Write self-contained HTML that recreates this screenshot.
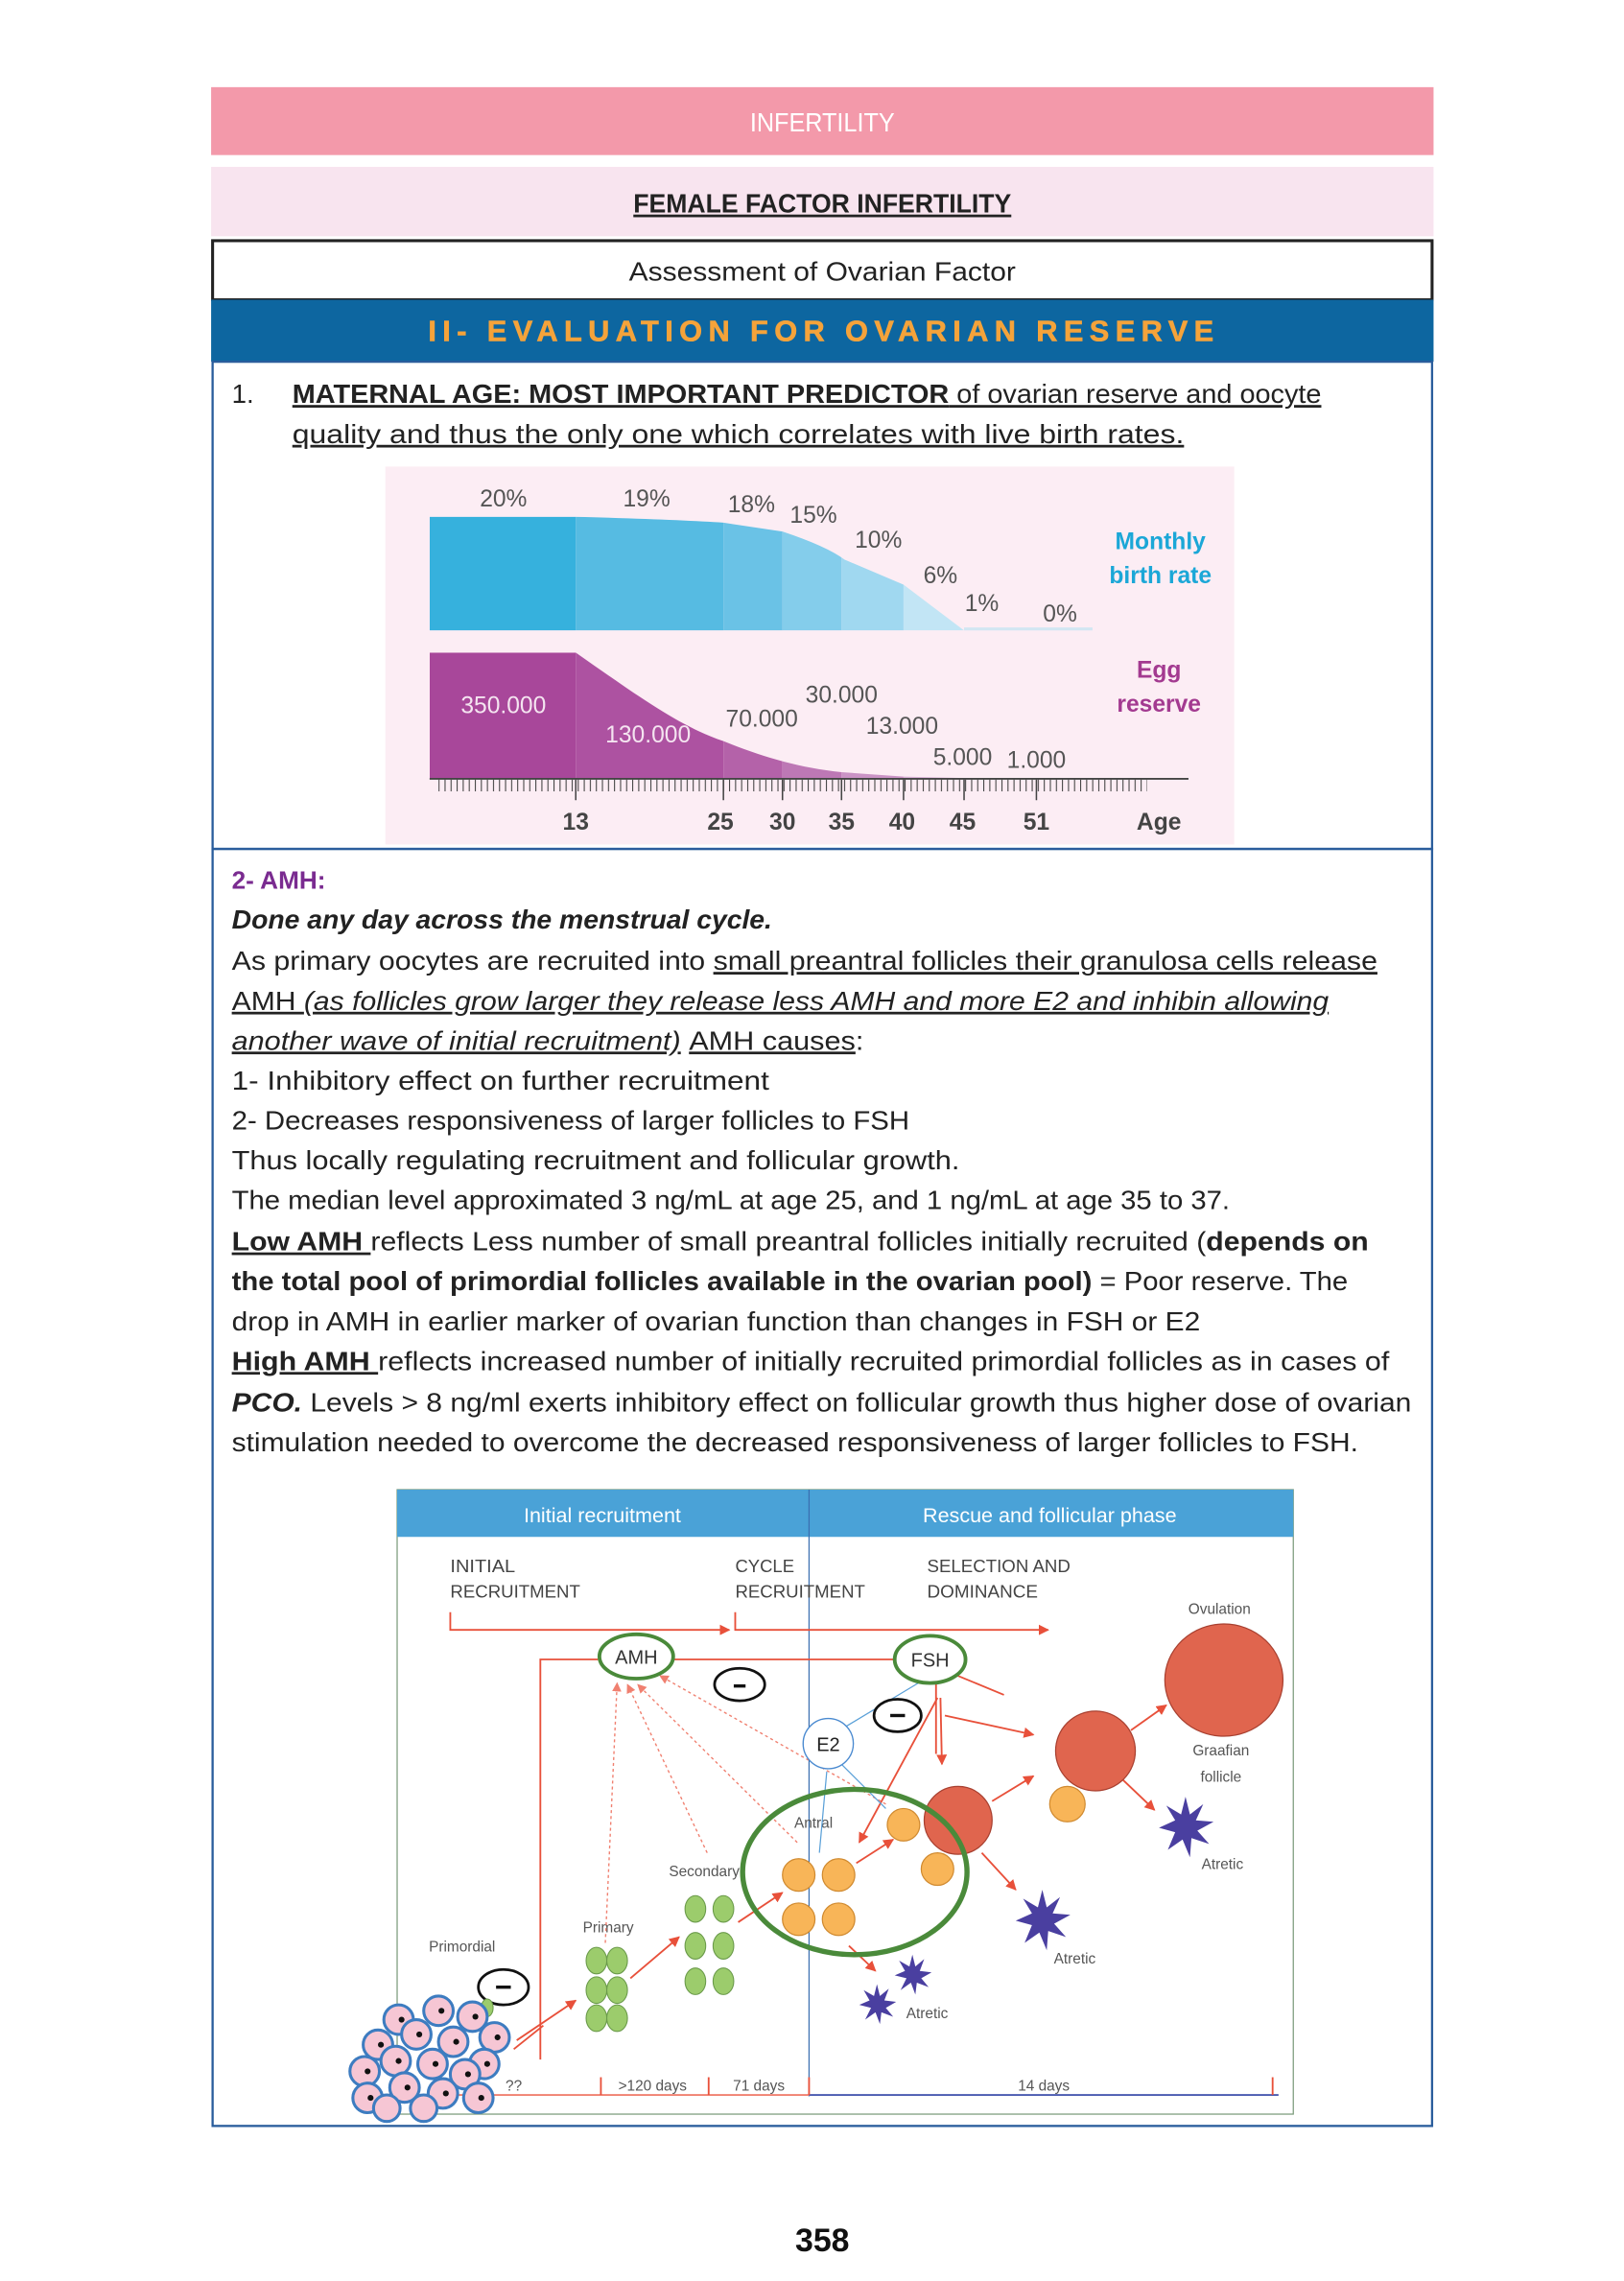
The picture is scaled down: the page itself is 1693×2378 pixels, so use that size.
<!DOCTYPE html>
<html><head><meta charset="utf-8"><style>
html,body{margin:0;padding:0;background:#fff;}
svg{display:block;}
text{font-family:"Liberation Sans",sans-serif;}
</style></head><body>
<svg width="1693" height="2378" viewBox="0 0 1100 1545" xmlns="http://www.w3.org/2000/svg">
<defs>
<pattern id="tk" x="297" y="0" width="4.1" height="20" patternUnits="userSpaceOnUse"><rect x="0" y="0" width="0.7" height="20" fill="#444"/></pattern>
<clipPath id="cb"><path d="M291,350 L390,350 Q460,352 490,354 L530,360 Q560,370 572,379 L612,396 L653,427 L291,427 Z"/></clipPath>
<clipPath id="cp"><path d="M291,442 L390,442 C430,470 460,492 490,502 C515,512 540,520 570,523 L612,526 L653,527 L291,527 Z"/></clipPath>
<marker id="ar" viewBox="0 0 10 10" refX="9" refY="5" markerWidth="6" markerHeight="6" orient="auto"><path d="M0,0 L10,5 L0,10 Z" fill="#e8503a"/></marker>
<marker id="ar2" viewBox="0 0 10 10" refX="9" refY="5" markerWidth="7" markerHeight="7" orient="auto"><path d="M0,0 L10,5 L0,10 Z" fill="#f08070"/></marker>
</defs>
<rect width="1100" height="1545" fill="#fff"/>
<rect x="143" y="59" width="828" height="46" fill="#f399aa"/>
<text x="557" y="89" font-size="18" fill="#fff" text-anchor="middle" textLength="98" lengthAdjust="spacingAndGlyphs">INFERTILITY</text>
<rect x="143" y="113" width="828" height="47" fill="#f8e4ef"/>
<text x="557" y="144" font-size="18" font-weight="bold" fill="#222" text-anchor="middle" textLength="256" lengthAdjust="spacingAndGlyphs" text-decoration="underline">FEMALE FACTOR INFERTILITY</text>
<rect x="144" y="163" width="826" height="40" fill="#fff" stroke="#222" stroke-width="2"/>
<text x="557" y="190" font-size="18" fill="#222" text-anchor="middle" textLength="262" lengthAdjust="spacingAndGlyphs">Assessment of Ovarian Factor</text>
<rect x="143" y="203" width="828" height="42" fill="#0d66a0"/>
<text x="556" y="231" font-size="20" font-weight="bold" fill="#f5a33a" stroke="#f5a33a" stroke-width="0.4" text-anchor="middle" textLength="532" lengthAdjust="spacing">II- EVALUATION FOR OVARIAN RESERVE</text>
<rect x="144" y="245" width="826" height="330" fill="none" stroke="#2a5d9c" stroke-width="1.5"/>
<text x="157" y="273" font-size="18" fill="#222">1.</text>
<text x="198" y="273" font-size="18" fill="#222" textLength="697" lengthAdjust="spacingAndGlyphs" text-decoration="underline"><tspan font-weight="bold">MATERNAL AGE: MOST IMPORTANT PREDICTOR</tspan> of ovarian reserve and oocyte</text>
<text x="198" y="300" font-size="18" fill="#222" textLength="604" lengthAdjust="spacingAndGlyphs" text-decoration="underline">quality  and thus the only one which correlates with live birth rates.</text>
<rect x="261" y="316" width="575" height="256" fill="#fcedf4"/>
<g clip-path="url(#cb)">
<rect x="291" y="340" width="99" height="90" fill="#36b1dd"/>
<rect x="390" y="340" width="100" height="90" fill="#56bbe2"/>
<rect x="490" y="340" width="40" height="90" fill="#6ac2e6"/>
<rect x="530" y="340" width="40" height="90" fill="#84cdeb"/>
<rect x="570" y="340" width="42" height="90" fill="#a0d8f0"/>
<rect x="612" y="340" width="45" height="90" fill="#c2e5f5"/>
</g>
<line x1="653" y1="426" x2="740" y2="426" stroke="#d2e6f2" stroke-width="2"/>
<g clip-path="url(#cp)">
<rect x="291" y="430" width="99" height="100" fill="#a8479a"/>
<rect x="390" y="430" width="100" height="100" fill="#ad52a1"/>
<rect x="490" y="430" width="40" height="100" fill="#b462a9"/>
<rect x="530" y="430" width="40" height="100" fill="#bd78b5"/>
<rect x="570" y="430" width="42" height="100" fill="#ca93c5"/>
<rect x="612" y="430" width="45" height="100" fill="#d8b1d6"/>
</g>
<g font-size="16" fill="#555">
<text x="341" y="343" text-anchor="middle">20%</text>
<text x="438" y="343" text-anchor="middle">19%</text>
<text x="509" y="347" text-anchor="middle">18%</text>
<text x="551" y="354" text-anchor="middle">15%</text>
<text x="595" y="371" text-anchor="middle">10%</text>
<text x="637" y="395" text-anchor="middle">6%</text>
<text x="665" y="414" text-anchor="middle">1%</text>
<text x="718" y="421" text-anchor="middle">0%</text>
<text x="341" y="483" text-anchor="middle" fill="#f4e4f0">350.000</text>
<text x="439" y="503" text-anchor="middle" fill="#f4e4f0">130.000</text>
<text x="516" y="492" text-anchor="middle">70.000</text>
<text x="570" y="476" text-anchor="middle">30.000</text>
<text x="611" y="497" text-anchor="middle">13.000</text>
<text x="652" y="518" text-anchor="middle">5.000</text>
<text x="702" y="520" text-anchor="middle">1.000</text>
</g>
<g font-size="16" font-weight="bold" text-anchor="middle">
<text x="786" y="372" fill="#1ba7d7">Monthly</text>
<text x="786" y="395" fill="#1ba7d7">birth rate</text>
<text x="785" y="459" fill="#a33a90">Egg</text>
<text x="785" y="482" fill="#a33a90">reserve</text>
</g>
<line x1="291" y1="527.5" x2="805" y2="527.5" stroke="#444" stroke-width="1.2"/>
<rect x="297" y="528" width="480" height="8" fill="url(#tk)"/>
<g stroke="#444" stroke-width="1">
<line x1="390" y1="528" x2="390" y2="542"/><line x1="490" y1="528" x2="490" y2="542"/><line x1="530" y1="528" x2="530" y2="542"/><line x1="570" y1="528" x2="570" y2="542"/><line x1="612" y1="528" x2="612" y2="542"/><line x1="653" y1="528" x2="653" y2="542"/><line x1="702" y1="528" x2="702" y2="542"/>
</g>
<g font-size="16" font-weight="bold" fill="#444" text-anchor="middle">
<text x="390" y="562">13</text><text x="488" y="562">25</text><text x="530" y="562">30</text><text x="570" y="562">35</text><text x="611" y="562">40</text><text x="652" y="562">45</text><text x="702" y="562">51</text><text x="785" y="562">Age</text>
</g>
<rect x="144" y="575" width="826" height="865" fill="none" stroke="#2a5d9c" stroke-width="1.5"/>
<text x="157" y="602" font-size="17" font-weight="bold" fill="#7a2b90">2- AMH:</text>
<g font-size="18" fill="#222">
<text x="157" y="629" font-weight="bold" font-style="italic" textLength="366" lengthAdjust="spacingAndGlyphs">Done any day across the menstrual cycle.</text>
<text x="157" y="657" textLength="776" lengthAdjust="spacingAndGlyphs">As primary oocytes are recruited into <tspan text-decoration="underline">small preantral follicles their granulosa cells release</tspan></text>
<text x="157" y="684" textLength="743" lengthAdjust="spacingAndGlyphs" text-decoration="underline">AMH <tspan font-style="italic">(as follicles grow larger they release less AMH and more E2 and inhibin allowing</tspan></text>
<text x="157" y="711" textLength="428" lengthAdjust="spacingAndGlyphs"><tspan font-style="italic" text-decoration="underline">another wave of initial recruitment)</tspan> <tspan text-decoration="underline">AMH causes</tspan>:</text>
<text x="157" y="738" textLength="364" lengthAdjust="spacingAndGlyphs">1- Inhibitory effect on further recruitment</text>
<text x="157" y="765" textLength="459" lengthAdjust="spacingAndGlyphs">2- Decreases responsiveness of larger follicles to FSH</text>
<text x="157" y="792" textLength="493" lengthAdjust="spacingAndGlyphs">Thus locally regulating recruitment and follicular growth.</text>
<text x="157" y="819" textLength="676" lengthAdjust="spacingAndGlyphs">The median level approximated 3 ng/mL at age 25, and 1 ng/mL at age 35 to 37.</text>
<text x="157" y="847" textLength="770" lengthAdjust="spacingAndGlyphs"><tspan font-weight="bold" text-decoration="underline">Low AMH </tspan>reflects Less number of small preantral follicles initially recruited (<tspan font-weight="bold">depends on</tspan></text>
<text x="157" y="874" textLength="756" lengthAdjust="spacingAndGlyphs"><tspan font-weight="bold">the total pool of primordial follicles available in the ovarian pool)</tspan> = Poor reserve. The</text>
<text x="157" y="901" textLength="656" lengthAdjust="spacingAndGlyphs">drop in AMH in earlier marker of ovarian function than changes in FSH or E2</text>
<text x="157" y="928" textLength="784" lengthAdjust="spacingAndGlyphs"><tspan font-weight="bold" text-decoration="underline">High AMH </tspan>reflects increased number of initially recruited primordial follicles as in cases of</text>
<text x="157" y="956" textLength="799" lengthAdjust="spacingAndGlyphs"><tspan font-weight="bold" font-style="italic">PCO.</tspan> Levels &gt; 8 ng/ml exerts inhibitory effect on follicular growth thus higher dose of ovarian</text>
<text x="157" y="983" textLength="763" lengthAdjust="spacingAndGlyphs">stimulation needed to overcome the decreased responsiveness of larger follicles to FSH.</text>
</g>
<rect x="269" y="1009" width="607" height="423" fill="#fff" stroke="#7a9a7a" stroke-width="0.8"/>
<rect x="269" y="1009" width="607" height="32" fill="#4aa2d7"/>
<line x1="548" y1="1009" x2="548" y2="1420" stroke="#3a6fb0" stroke-width="0.8"/>
<text x="408" y="1031" font-size="14" fill="#fff" text-anchor="middle">Initial recruitment</text>
<text x="711" y="1031" font-size="14" fill="#fff" text-anchor="middle">Rescue and follicular phase</text>
<g font-size="12" fill="#444">
<text x="305" y="1065" textLength="44" lengthAdjust="spacingAndGlyphs">INITIAL</text>
<text x="305" y="1082" textLength="88" lengthAdjust="spacingAndGlyphs">RECRUITMENT</text>
<text x="498" y="1065" textLength="40" lengthAdjust="spacingAndGlyphs">CYCLE</text>
<text x="498" y="1082" textLength="88" lengthAdjust="spacingAndGlyphs">RECRUITMENT</text>
<text x="628" y="1065" textLength="97" lengthAdjust="spacingAndGlyphs">SELECTION AND</text>
<text x="628" y="1082" textLength="75" lengthAdjust="spacingAndGlyphs">DOMINANCE</text>
</g>
<g font-size="10" fill="#555">
<text x="826" y="1093" text-anchor="middle">Ovulation</text>
<text x="827" y="1189" text-anchor="middle">Graafian</text>
<text x="827" y="1207" text-anchor="middle">follicle</text>
<text x="828" y="1266" text-anchor="middle">Atretic</text>
<text x="728" y="1330" text-anchor="middle">Atretic</text>
<text x="628" y="1367" text-anchor="middle">Atretic</text>
<text x="551" y="1238" text-anchor="middle">Antral</text>
<text x="477" y="1271" text-anchor="middle">Secondary</text>
<text x="412" y="1309" text-anchor="middle">Primary</text>
<text x="313" y="1322" text-anchor="middle">Primordial</text>
<text x="348" y="1416" text-anchor="middle">??</text>
<text x="442" y="1416" text-anchor="middle">&gt;120 days</text>
<text x="514" y="1416" text-anchor="middle">71 days</text>
<text x="707" y="1416" text-anchor="middle">14 days</text>
</g>
<g stroke="#e8503a" stroke-width="1.2" fill="none">
<polyline points="305,1092 305,1104 494,1104" marker-end="url(#ar)"/>
<polyline points="498,1092 498,1104 710,1104" marker-end="url(#ar)"/>
<polyline points="405,1124 366,1124 366,1395"/>
<polyline points="456,1124 622,1124 680,1148"/>
<line x1="634" y1="1140" x2="634" y2="1188"/>
<line x1="637" y1="1150" x2="638" y2="1195" marker-end="url(#ar)"/>
<line x1="640" y1="1162" x2="700" y2="1175" marker-end="url(#ar)"/>
<line x1="635" y1="1150" x2="582" y2="1248" marker-end="url(#ar)"/>
<line x1="348" y1="1388" x2="368" y2="1372"/>
<line x1="350" y1="1382" x2="390" y2="1355" marker-end="url(#ar)"/>
<line x1="427" y1="1340" x2="460" y2="1312" marker-end="url(#ar)"/>
<line x1="500" y1="1302" x2="530" y2="1282" marker-end="url(#ar)"/>
<line x1="580" y1="1262" x2="605" y2="1246" marker-end="url(#ar)"/>
<line x1="672" y1="1220" x2="700" y2="1203" marker-end="url(#ar)"/>
<line x1="766" y1="1172" x2="790" y2="1155" marker-end="url(#ar)"/>
<line x1="760" y1="1205" x2="782" y2="1226" marker-end="url(#ar)"/>
<line x1="665" y1="1255" x2="688" y2="1280" marker-end="url(#ar)"/>
<line x1="575" y1="1318" x2="593" y2="1335" marker-end="url(#ar)"/>
</g>
<g stroke="#f08070" stroke-width="0.9" fill="none" stroke-dasharray="2,2">
<line x1="410" y1="1316" x2="418" y2="1140" marker-end="url(#ar2)"/>
<line x1="479" y1="1255" x2="425" y2="1141" marker-end="url(#ar2)"/>
<line x1="540" y1="1248" x2="432" y2="1141" marker-end="url(#ar2)"/>
<line x1="600" y1="1222" x2="447" y2="1135" marker-end="url(#ar2)"/>
</g>
<g stroke="#5aa0d8" stroke-width="0.8" fill="none">
<line x1="555" y1="1255" x2="560" y2="1200"/>
<line x1="600" y1="1225" x2="570" y2="1195"/>
<line x1="572" y1="1170" x2="622" y2="1140"/>
</g>
<ellipse cx="431" cy="1122" rx="25" ry="15" fill="#fff" stroke="#4a8a3a" stroke-width="2.5"/>
<text x="431" y="1127" font-size="13" fill="#333" text-anchor="middle">AMH</text>
<ellipse cx="630" cy="1124" rx="24" ry="16" fill="#fff" stroke="#4a8a3a" stroke-width="2.5"/>
<text x="630" y="1129" font-size="13" fill="#333" text-anchor="middle">FSH</text>
<circle cx="561" cy="1181" r="17" fill="#fff" stroke="#4a8ad0" stroke-width="0.9"/>
<text x="561" y="1186" font-size="13" fill="#222" text-anchor="middle">E2</text>
<g fill="#fff" stroke="#111" stroke-width="1.8">
<ellipse cx="501" cy="1141" rx="17" ry="11"/><ellipse cx="608" cy="1162" rx="16" ry="11"/><ellipse cx="341" cy="1346" rx="17" ry="12"/>
</g>
<g stroke="#111" stroke-width="2.2"><line x1="497" y1="1142" x2="505" y2="1142"/><line x1="603" y1="1162" x2="613" y2="1162"/><line x1="336" y1="1346" x2="346" y2="1346"/></g>
<g fill="#e0654e" stroke="#a84030" stroke-width="0.8">
<circle cx="649" cy="1233" r="23"/><circle cx="742" cy="1186" r="27"/><ellipse cx="829" cy="1138" rx="40" ry="38"/>
</g>
<g fill="#f8b558" stroke="#d08a30" stroke-width="0.8">
<circle cx="541" cy="1270" r="11"/><circle cx="568" cy="1270" r="11"/><circle cx="541" cy="1300" r="11"/><circle cx="568" cy="1300" r="11"/>
<circle cx="612" cy="1236" r="11"/><circle cx="635" cy="1266" r="11"/><circle cx="723" cy="1222" r="12"/>
</g>
<ellipse cx="579" cy="1268" rx="76" ry="56" fill="none" stroke="#4a8a3a" stroke-width="3.5"/>
<g fill="#9ccc6c" stroke="#6a9a4a" stroke-width="0.7">
<ellipse cx="404" cy="1328" rx="7" ry="9"/><ellipse cx="418" cy="1328" rx="7" ry="9"/>
<ellipse cx="404" cy="1348" rx="7" ry="9"/><ellipse cx="418" cy="1348" rx="7" ry="9"/>
<ellipse cx="404" cy="1367" rx="7" ry="9"/><ellipse cx="418" cy="1367" rx="7" ry="9"/>
<ellipse cx="471" cy="1293" rx="7" ry="9"/><ellipse cx="490" cy="1293" rx="7" ry="9"/>
<ellipse cx="471" cy="1318" rx="7" ry="9"/><ellipse cx="490" cy="1318" rx="7" ry="9"/>
<ellipse cx="471" cy="1342" rx="7" ry="9"/><ellipse cx="490" cy="1342" rx="7" ry="9"/>
<ellipse cx="330" cy="1360" rx="4" ry="6"/>
</g>
<g fill="#4a3fa0">
<polygon points="803,1217 806,1229 815,1222 810,1233 822,1234 811,1240 819,1249 807,1245 806,1258 801,1246 791,1253 796,1241 785,1238 796,1233 790,1223 800,1229"/>
<polygon points="706,1280 709,1292 718,1285 713,1296 725,1297 714,1303 722,1312 710,1308 709,1321 704,1309 694,1316 699,1304 688,1301 699,1296 693,1286 703,1292"/>
<polygon points="618,1324 620,1332 626,1327 623,1335 631,1336 624,1340 629,1346 621,1343 620,1351 617,1343 610,1348 614,1340 606,1338 613,1335 609,1328 616,1332"/>
<polygon points="594,1344 596,1352 602,1347 599,1355 607,1356 600,1360 605,1366 597,1363 596,1371 593,1363 586,1368 590,1360 582,1358 589,1355 585,1348 592,1352"/>
</g>
<line x1="269" y1="1419" x2="548" y2="1419" stroke="#f08070" stroke-width="1.2"/>
<line x1="548" y1="1419" x2="866" y2="1419" stroke="#4a5ab0" stroke-width="1.2"/>
<g stroke="#e8503a" stroke-width="1.2"><line x1="407" y1="1407" x2="407" y2="1419"/><line x1="480" y1="1407" x2="480" y2="1419"/><line x1="548" y1="1407" x2="548" y2="1419"/><line x1="862" y1="1407" x2="862" y2="1419"/></g>
<g fill="#f6c6d4" stroke="#3d7cc0" stroke-width="2">
<circle cx="270" cy="1368" r="10"/><circle cx="297" cy="1362" r="10"/><circle cx="320" cy="1366" r="10"/><circle cx="335" cy="1380" r="10"/>
<circle cx="256" cy="1385" r="10"/><circle cx="282" cy="1378" r="10"/><circle cx="307" cy="1383" r="10"/><circle cx="328" cy="1398" r="10"/>
<circle cx="247" cy="1403" r="10"/><circle cx="268" cy="1396" r="10"/><circle cx="293" cy="1398" r="10"/><circle cx="315" cy="1405" r="10"/>
<circle cx="249" cy="1421" r="10"/><circle cx="274" cy="1414" r="10"/><circle cx="300" cy="1418" r="10"/><circle cx="324" cy="1421" r="10"/>
<circle cx="262" cy="1428" r="9"/><circle cx="287" cy="1428" r="9"/>
</g>
<g fill="#111">
<circle cx="272" cy="1368" r="2"/><circle cx="299" cy="1362" r="2"/><circle cx="322" cy="1366" r="2"/><circle cx="337" cy="1380" r="2"/>
<circle cx="258" cy="1385" r="2"/><circle cx="284" cy="1378" r="2"/><circle cx="309" cy="1383" r="2"/><circle cx="330" cy="1398" r="2"/>
<circle cx="249" cy="1403" r="2"/><circle cx="270" cy="1396" r="2"/><circle cx="295" cy="1398" r="2"/><circle cx="317" cy="1405" r="2"/>
<circle cx="251" cy="1421" r="2"/><circle cx="276" cy="1414" r="2"/><circle cx="302" cy="1418" r="2"/><circle cx="326" cy="1421" r="2"/>
</g>
<text x="557" y="1525" font-size="22" font-weight="bold" fill="#111" text-anchor="middle">358</text>
</svg>
</body></html>
